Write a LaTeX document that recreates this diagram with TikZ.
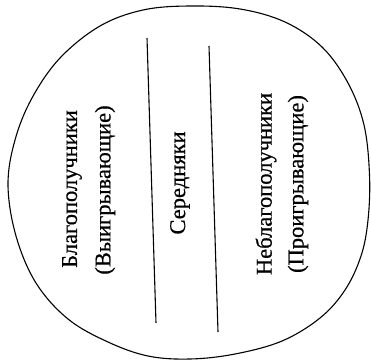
\documentclass[tikz,border=0pt]{standalone}
\usepackage{fontspec}
\setmainfont[FakeBold=0.6,AutoFakeBold=0.6]{Liberation Serif}
\begin{document}
\begin{tikzpicture}[x=1pt,y=-1pt,
  lbl/.style={rotate=90,inner sep=0pt,font=\fontsize{22.5}{27}\selectfont\bfseries},
  divider/.style={line width=1.1pt},
  blob/.style={line width=1.1pt}]
\useasboundingbox (0,0) rectangle (371,361);
\draw[blob] plot[smooth cycle,tension=0.6] coordinates {
 (190,6) (240,9) (285,22) (322,47) (348,83) (364,125) (369.5,175) (368,220)
 (361,256) (345,290) (320,318) (282,341) (235,354) (190,359) (148,356)
 (108,342) (68,319) (36,283) (16,236) (8,185) (15,140) (32,98) (60,58)
 (100,26) (143,10)};
\coordinate (l1a) at (147,38);
\coordinate (l1b) at (156,323);
\coordinate (l2a) at (209,46);
\coordinate (l2b) at (218,332);
\draw[divider] (l1a) -- (l1b);
\draw[divider] (l2a) -- (l2b);
\node[lbl] (t1) at (72,189) {Благополучники};
\node[lbl] (t2) at (105,190) {(Выигрывающие)};
\node[lbl] (t3) at (180,183) {Середняки};
\node[lbl] (t4) at (266,184) {Неблагополучники};
\node[lbl] (t5) at (298,184) {(Проигрывающие)};
\end{tikzpicture}
\end{document}
